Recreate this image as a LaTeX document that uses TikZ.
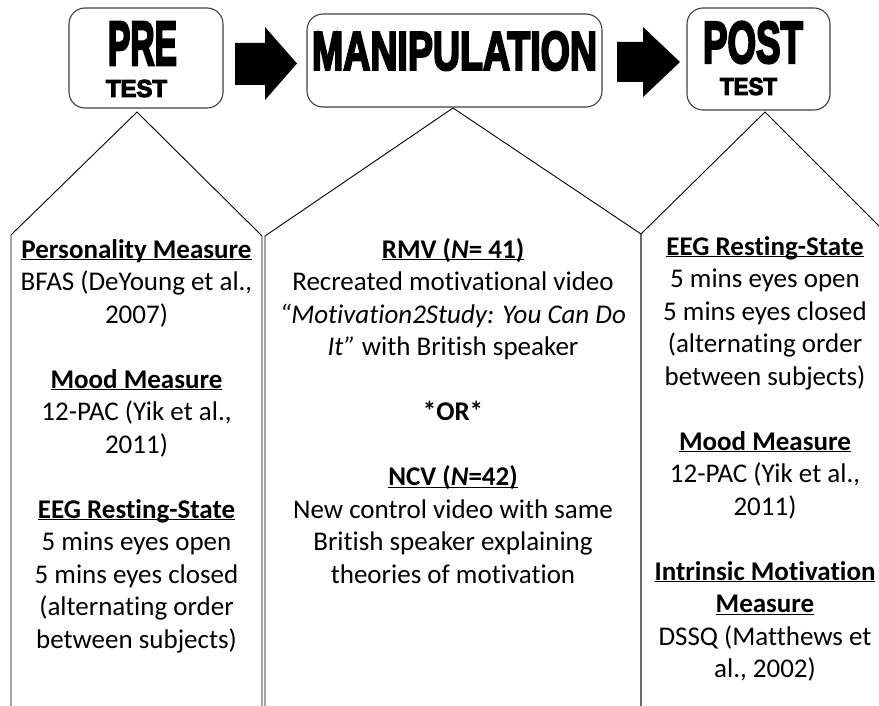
\documentclass[tikz,border=0pt]{standalone}
\usepackage{fontspec}
\usepackage{graphicx}
\setmainfont{Carlito}[Ligatures=NoCommon]
\newfontfamily\impact[FakeBold=4.5]{Liberation Sans Bold}
\newcommand\hd[1]{\underline{\raisebox{0pt}[\height][0pt]{\textbf{#1}}}}
\newcommand\firstln{\rule{0pt}{20pt}}
\tikzset{
  stage/.style={draw=black!75, line width=1.1pt, rounded corners=16pt, fill=white},
  blockarrow/.style={fill=black, draw=none},
  panel/.style={draw=black, line width=0.9pt, line join=miter},
  coltext/.style={align=center, inner sep=0pt, anchor=north, font=\fontsize{27}{32.5}\selectfont},
  title/.style={inner sep=0pt, font=\impact},
}
\begin{document}
\begin{tikzpicture}[x=1pt,y=-1pt]
\useasboundingbox (0,0) rectangle (879,706);
\clip (0,0) rectangle (879,706);
\fill[white] (0,0) rectangle (879,706);

% panels
\draw[panel] (11,730) -- (11,235) -- (137,112) -- (262,236) -- (262,730);
\draw[panel] (265,730) -- (265,236) -- (453,108) -- (641,234) -- (641,730);
\draw[panel] (641,730) -- (641,234) -- (765,112) -- (889,236) -- (889,730);

% stage boxes
\node[stage, minimum width=154pt, minimum height=100pt] (pre) at (146,58) {};
\node[stage, minimum width=295pt, minimum height=93pt] (manip) at (454.5,60.5) {};
\node[stage, minimum width=143pt, minimum height=102pt] (post) at (758.5,59) {};

\node[title] (preA) at (142.5,43.5) {\resizebox{69pt}{43pt}{PRE}};
\node[title] (preB) at (136.5,88.5) {\resizebox{61pt}{17pt}{TEST}};
\node[title] (manipA) at (454.5,51) {\resizebox{285pt}{38pt}{MANIPULATION}};
\node[title] (postA) at (753,42.5) {\resizebox{100pt}{41pt}{POST}};
\node[title] (postB) at (748.5,86.5) {\resizebox{57pt}{17pt}{TEST}};

% block arrows
\fill[blockarrow] (235,43) -- (265,43) -- (265,27) -- (297,63.5) -- (265,100) -- (265,85) -- (235,85) -- cycle;
\fill[blockarrow] (617,42) -- (643,42) -- (643,27) -- (680,62) -- (643,97) -- (643,82) -- (617,82) -- cycle;

% column texts
\node[coltext] (pretxt) at (136.5,238) {\firstln\hd{Personality Measure}\\
BFAS (DeYoung et al.,\\
2007)\\[32.5pt]
\hd{Mood Measure}\\
12-PAC (Yik et al.,\\
2011)\\[32.5pt]
\hd{EEG Resting-State}\\
5 mins eyes open\\
5 mins eyes closed\\
(alternating order\\
between subjects)};

\node[coltext] (maniptxt) at (453,238) {\firstln\hd{RMV (\textit{N}= 41)}\\
Recreated motivational video\\
\textit{“Motivation2Study: You Can Do}\\
\textit{It”} with British speaker\\[32.5pt]
\textbf{*OR*}\\[32.5pt]
\hd{NCV (\textit{N}=42)}\\
New control video with same\\
British speaker explaining\\
theories of motivation};

\node[coltext] (posttxt) at (765,235) {\firstln\hd{EEG Resting-State}\\
5 mins eyes open\\
5 mins eyes closed\\
(alternating order\\
between subjects)\\[32.5pt]
\hd{Mood Measure}\\
12-PAC (Yik et al.,\\
2011)\\[32.5pt]
\hd{Intrinsic Motivation}\\
\hd{Measure}\\
DSSQ (Matthews et\\
al., 2002)};
\end{tikzpicture}
\end{document}
